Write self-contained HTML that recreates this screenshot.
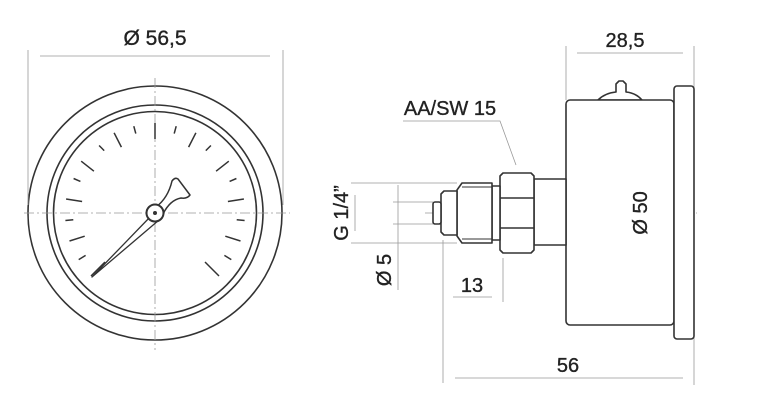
<!DOCTYPE html>
<html><head><meta charset="utf-8"><style>html,body{margin:0;padding:0;background:#fff}svg{display:block}text{font-family:"Liberation Sans",sans-serif;fill:#222;stroke:#222;stroke-width:0.35}</style></head>
<body>
<svg width="760" height="409" viewBox="0 0 760 409" xmlns="http://www.w3.org/2000/svg">
<g fill="none" stroke="#333" stroke-width="1.6">
<circle cx="155" cy="213" r="127"/>
<circle cx="155" cy="213" r="108"/>
<circle cx="155" cy="213" r="101.5"/>
</g>
<g stroke="#999" stroke-width="0.8" fill="none">
<line x1="28" y1="50" x2="28" y2="205"/>
<line x1="283" y1="50" x2="283" y2="205"/>
<line x1="40" y1="56" x2="270" y2="56"/>
<line x1="155" y1="78" x2="155" y2="350" stroke-dasharray="10,3,2,3"/>
<line x1="24" y1="213" x2="290" y2="213" stroke-dasharray="10,3,2,3"/>
</g>
<text x="155" y="45" font-size="21" text-anchor="middle">Ø 56,5</text>
<g stroke="#333" stroke-width="1.5">
<line x1="155" y1="123" x2="155" y2="139"/>
<line x1="176.2" y1="126.2" x2="174.2" y2="133.6"/>
<line x1="133.8" y1="126.2" x2="135.8" y2="133.6"/>
<line x1="195.9" y1="132.8" x2="188.6" y2="147.1"/>
<line x1="114.1" y1="132.8" x2="121.4" y2="147.1"/>
<line x1="210.9" y1="145.5" x2="205.8" y2="150.6"/>
<line x1="99.1" y1="145.5" x2="104.2" y2="150.6"/>
<line x1="228.8" y1="161.2" x2="216.1" y2="171.2"/>
<line x1="81.2" y1="161.2" x2="93.9" y2="171.2"/>
<line x1="236.4" y1="178.5" x2="229.6" y2="181.4"/>
<line x1="73.6" y1="178.5" x2="80.4" y2="181.4"/>
<line x1="243.9" y1="199" x2="227.9" y2="201.5"/>
<line x1="66.1" y1="199" x2="82.1" y2="201.5"/>
<line x1="244.6" y1="220.5" x2="236.7" y2="219.8"/>
<line x1="65.4" y1="220.5" x2="73.3" y2="219.8"/>
<line x1="240.5" y1="241" x2="225.3" y2="236.2"/>
<line x1="69.5" y1="241" x2="84.7" y2="236.2"/>
<line x1="231.3" y1="259.6" x2="224.4" y2="255.4"/>
<line x1="78.7" y1="259.6" x2="85.6" y2="255.4"/>
<line x1="219" y1="276" x2="205" y2="262"/>
<line x1="91" y1="276" x2="105" y2="262"/>
</g>
<path d="M92 277 L151 216 L159 220 Z" fill="#fff" stroke="#333" stroke-width="1.3" stroke-linejoin="round"/>
<path d="M156 207 Q168 198 172 181 Q175 177 178 179 Q184 187 190 195 Q187 199 181 198 Q170 200 163 214 Z" fill="#fff" stroke="#333" stroke-width="1.5" stroke-linejoin="round"/>
<circle cx="155" cy="213" r="8.5" fill="#fff" stroke="#333" stroke-width="2"/>
<circle cx="155" cy="213" r="2" fill="#333"/>

<g stroke="#999" stroke-width="0.8" fill="none">
<line x1="566" y1="46" x2="566" y2="100"/>
<line x1="694" y1="46" x2="694" y2="385"/>
<line x1="577" y1="53" x2="683" y2="53"/>
<line x1="653" y1="111" x2="653" y2="313"/>
<line x1="455" y1="378" x2="683" y2="378"/>
<line x1="443" y1="240" x2="443" y2="383"/>
<line x1="503" y1="258" x2="503" y2="302"/>
<line x1="453" y1="297" x2="492" y2="297"/>
<line x1="351" y1="183" x2="457" y2="183"/>
<line x1="351" y1="243" x2="457" y2="243"/>
<line x1="355" y1="195" x2="355" y2="231"/>
<line x1="393" y1="202" x2="433" y2="202"/>
<line x1="393" y1="224" x2="433" y2="224"/>
<line x1="398" y1="185" x2="398" y2="290"/>
<polyline points="403,121 500,121 516,165"/>
<line x1="425" y1="213" x2="620" y2="213" stroke-dasharray="10,3,2,3"/>
<line x1="660" y1="213" x2="697" y2="213" stroke-dasharray="10,3,2,3"/>
</g>
<g fill="#fff" stroke="#333" stroke-width="1.6" stroke-linejoin="round">
<path d="M598 100 Q605 93 616 92 L616 84 L619 81 L623 81 L626 84 L626 92 Q636 93 642 100 Z"/>
<rect x="566" y="100" width="108" height="225" rx="4"/>
<rect x="674" y="86" width="20" height="253" rx="3"/>
<rect x="534" y="179" width="32" height="66"/>
<path d="M503 173 L531 173 L534 176 L534 250 L531 253 L503 253 L500 250 L500 176 Z"/>
<path d="M500 198 L534 198 M500 228 L534 228" fill="none"/>
<rect x="492" y="186" width="8" height="54"/>
<path d="M462 183 L492 183 L492 243 L462 243 L457 236 L457 190 Z"/>
<path d="M462 187 L492 187 M462 239 L492 239" fill="none" stroke-width="1"/>
<path d="M444 191 L457 191 L457 235 L444 235 L441 232 L441 194 Z"/>
<rect x="433" y="202" width="8" height="22" rx="2"/>
</g>
<text x="625" y="47" font-size="20" text-anchor="middle">28,5</text>
<text x="450" y="115" font-size="20" text-anchor="middle">AA/SW 15</text>
<text x="472" y="292" font-size="20" text-anchor="middle">13</text>
<text x="568" y="372" font-size="20" text-anchor="middle">56</text>
<text transform="translate(647,213) rotate(-90)" font-size="20" text-anchor="middle">Ø 50</text>
<text transform="translate(348,213) rotate(-90)" font-size="20" text-anchor="middle">G 1/4”</text>
<text transform="translate(391,270) rotate(-90)" font-size="20" text-anchor="middle">Ø 5</text>
</svg>
</body></html>
